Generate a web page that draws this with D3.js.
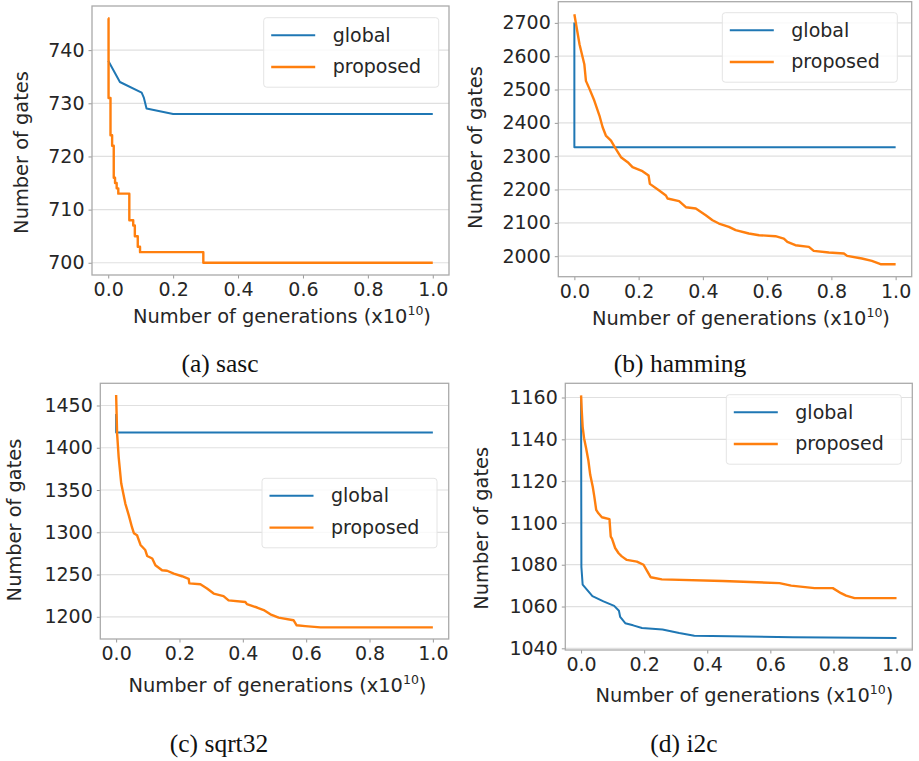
<!DOCTYPE html>
<html>
<head>
<meta charset="utf-8">
<script src="https://cdn.jsdelivr.net/npm/d3@7"></script>
<style>
  body { margin: 0; background: #fff; }
  svg { display: block; }
</style>
</head>
<body>
<svg id="svg" width="919" height="761"></svg>
<script>
// values, x in units of 1e10 generations

var genTicks = [0, 0.2, 0.4, 0.6, 0.8, 1.0];

// (a) sasc
var sascTicks = [700, 710, 720, 730, 740];
var sascGlobal = [[0, 738], [0.036, 734], [0.103, 732], [0.11, 731], [0.118, 729], [0.2, 728], [1.0, 728]];
var sascProposed = [[0, 746], [0.001, 731], [0.007, 724], [0.012, 722], [0.017, 716], [0.021, 715],
    [0.026, 714], [0.031, 713], [0.065, 708], [0.077, 707], [0.082, 705], [0.091, 703],
    [0.098, 702], [0.293, 700], [1.0, 700]];

// (b) hamming
var hammingTicks = [2000, 2100, 2200, 2300, 2400, 2500, 2600, 2700];
var hammingGlobal = [[0, 2701], [0, 2327], [1.0, 2327]];
var hammingProposed = [[0, 2726], [0.016, 2636], [0.031, 2576], [0.036, 2526], [0.047, 2502],
    [0.062, 2467], [0.078, 2422], [0.088, 2387], [0.098, 2362], [0.114, 2347], [0.129, 2322],
    [0.145, 2297], [0.166, 2282], [0.181, 2267], [0.212, 2255], [0.231, 2242], [0.235, 2217],
    [0.264, 2197], [0.285, 2182], [0.29, 2173], [0.326, 2165], [0.347, 2147], [0.378, 2143],
    [0.409, 2123], [0.43, 2108], [0.45, 2098], [0.481, 2088], [0.502, 2078], [0.543, 2068],
    [0.575, 2063], [0.626, 2060], [0.652, 2053], [0.663, 2043], [0.688, 2033], [0.73, 2028],
    [0.745, 2016], [0.792, 2011], [0.839, 2008], [0.849, 2001], [0.895, 1993], [0.926, 1986],
    [0.953, 1976], [1.0, 1976]];

// (c) sqrt32
var sqrtTicks = [1200, 1250, 1300, 1350, 1400, 1450];
var sqrtGlobal = [[0, 1440], [0, 1418], [1.0, 1418]];
var sqrtProposed = [[0, 1462.5], [0.003, 1417], [0.008, 1389], [0.016, 1358], [0.029, 1334],
    [0.04, 1320], [0.05, 1306], [0.056, 1299], [0.066, 1296.5], [0.077, 1285], [0.092, 1279],
    [0.098, 1272], [0.114, 1269], [0.124, 1261], [0.145, 1255], [0.161, 1254.5], [0.182, 1251],
    [0.208, 1248], [0.229, 1245], [0.231, 1239.5], [0.266, 1238.5], [0.287, 1233.5], [0.308, 1227.5],
    [0.339, 1224.5], [0.355, 1219.5], [0.408, 1217.5], [0.413, 1215], [0.445, 1211], [0.466, 1208],
    [0.487, 1203], [0.513, 1199], [0.56, 1196], [0.57, 1190], [0.597, 1189], [0.645, 1187.5],
    [1.0, 1187.5]];

// (d) i2c
var i2cTicks = [1040, 1060, 1080, 1100, 1120, 1140, 1160];
var i2cGlobal = [[0, 1159.5], [0.001, 1079], [0.005, 1070.5], [0.036, 1065], [0.071, 1062.5],
    [0.105, 1060.3], [0.12, 1058], [0.124, 1055], [0.14, 1052], [0.165, 1051], [0.193, 1049.7],
    [0.258, 1049], [0.311, 1047.3], [0.359, 1046], [0.671, 1045.3], [1.0, 1045]];
var i2cProposed = [[0, 1161], [0.002, 1154], [0.005, 1146], [0.0095, 1140.5], [0.016, 1135.7],
    [0.023, 1130], [0.029, 1123], [0.037, 1117.3], [0.042, 1112.6], [0.048, 1106.2], [0.055, 1104.6],
    [0.066, 1102.7], [0.09, 1101.8], [0.094, 1093.5], [0.098, 1092.5], [0.108, 1088], [0.119, 1085.5],
    [0.129, 1084], [0.145, 1082.3], [0.177, 1081.5], [0.198, 1080], [0.21, 1076.8], [0.221, 1074],
    [0.256, 1073], [0.449, 1072.2], [0.629, 1071.2], [0.666, 1070], [0.74, 1068.8], [0.798, 1068.8],
    [0.824, 1066.4], [0.84, 1065.2], [0.867, 1064], [1.0, 1064]];

var seriesNames = ["global", "proposed"];
var seriesColors = ["#1f77b4", "#ff7f0e"];

var svg = d3.select("#svg");
var font = "'DejaVu Sans', sans-serif";

var panels = [
    {frame: [92, 6, 449, 275], ticks: sascTicks, data: [sascGlobal, sascProposed], step: true,
     legend: [263.7, 17.7], xlab: [282, 322.7], ylab: [28.3, 152.5], caption: "(a) sasc", cap: [220, 372]},
    {frame: [558.3, 1.7, 911.7, 276.7], ticks: hammingTicks, data: [hammingGlobal, hammingProposed], step: false,
     legend: [722.3, 12.7], xlab: [741, 325], ylab: [482.3, 147.5], caption: "(b) hamming", cap: [680, 372]},
    {frame: [100.3, 383.3, 448.7, 639], ticks: sqrtTicks, data: [sqrtGlobal, sqrtProposed], step: false,
     legend: [262, 478.3], xlab: [277.5, 691.7], ylab: [20.7, 520], caption: "(c) sqrt32", cap: [219, 752]},
    {frame: [565.3, 383.3, 912.3, 650], ticks: i2cTicks, data: [i2cGlobal, i2cProposed], step: false,
     legend: [726.3, 394.7], xlab: [744.3, 701.7], ylab: [488.3, 528.3], caption: "(d) i2c", cap: [684, 752]}
];

panels.forEach(function(p) {
    var x0 = p.frame[0], y0 = p.frame[1], x1 = p.frame[2], y1 = p.frame[3];

    // matplotlib style 5% margins
    var all = p.data[0].concat(p.data[1]);
    var ext = d3.extent(all, function(d) { return d[1]; });
    var pad = (ext[1] - ext[0]) * 0.05;

    var xScale = d3.scaleLinear().domain([-0.05, 1.05]).range([x0, x1]);
    var yScale = d3.scaleLinear().domain([ext[0] - pad, ext[1] + pad]).range([y1, y0]);

    var g = svg.append("g");

    // horizontal grid
    g.selectAll("line.grid")
        .data(p.ticks)
        .enter()
        .append("line")
        .attr("class", "grid")
        .attr("x1", x0).attr("x2", x1)
        .attr("y1", function(d) { return yScale(d); })
        .attr("y2", function(d) { return yScale(d); })
        .attr("stroke", "#e0e0e0")
        .attr("stroke-width", 1.2);

    // axes
    var xAxis = g.append("g")
        .attr("transform", "translate(0," + y1 + ")")
        .call(d3.axisBottom(xScale).tickValues(genTicks).tickFormat(d3.format(".1f")).tickSize(3.5).tickPadding(4));
    var yAxis = g.append("g")
        .attr("transform", "translate(" + x0 + ",0)")
        .call(d3.axisLeft(yScale).tickValues(p.ticks).tickFormat(d3.format("d")).tickSize(3.5).tickPadding(4));

    [xAxis, yAxis].forEach(function(a) {
        a.select(".domain").remove();
        a.selectAll(".tick line").attr("stroke", "#999").attr("stroke-width", 1);
        a.selectAll(".tick text")
            .attr("fill", "#262626")
            .style("font-family", font)
            .style("font-size", "19px");
    });

    // frame
    g.append("rect")
        .attr("x", x0).attr("y", y0)
        .attr("width", x1 - x0).attr("height", y1 - y0)
        .attr("fill", "none")
        .attr("stroke", "#aaa")
        .attr("stroke-width", 1.3);

    // lines
    p.data.forEach(function(series, i) {
        var line = d3.line()
            .x(function(d) { return xScale(d[0]); })
            .y(function(d) { return yScale(d[1]); })
            .curve(i == 1 && p.step ? d3.curveStepAfter : d3.curveLinear);
        g.append("path")
            .datum(series)
            .attr("d", line)
            .attr("fill", "none")
            .attr("stroke", seriesColors[i])
            .attr("stroke-width", i == 1 ? 2.4 : 2)
            .attr("stroke-linejoin", "round");
    });

    // legend
    var lg = g.append("g").attr("transform", "translate(" + p.legend[0] + "," + p.legend[1] + ")");
    lg.append("rect")
        .attr("width", 175).attr("height", 69.5)
        .attr("rx", 3).attr("ry", 3)
        .attr("fill", "#fff").attr("fill-opacity", 0.8)
        .attr("stroke", "#e4e4e4").attr("stroke-width", 1);
    seriesNames.forEach(function(name, i) {
        var yy = 17.5 + i * 31.8;
        lg.append("line")
            .attr("x1", 7.5).attr("x2", 51.5)
            .attr("y1", yy).attr("y2", yy)
            .attr("stroke", seriesColors[i])
            .attr("stroke-width", i == 1 ? 2.4 : 2);
        lg.append("text")
            .attr("x", 69).attr("y", yy + 6.5)
            .attr("fill", "#262626")
            .style("font-family", font)
            .style("font-size", "19px")
            .text(name);
    });

    // axis labels
    var xt = g.append("text")
        .attr("x", p.xlab[0]).attr("y", p.xlab[1])
        .attr("text-anchor", "middle")
        .attr("fill", "#262626")
        .style("font-family", font)
        .style("font-size", "19.4px");
    xt.append("tspan").text("Number of generations (x10");
    xt.append("tspan").attr("dy", -8).style("font-size", "12.5px").text("10");
    xt.append("tspan").attr("dy", 8).text(")");

    g.append("text")
        .attr("transform", "translate(" + p.ylab[0] + "," + p.ylab[1] + ") rotate(-90)")
        .attr("text-anchor", "middle")
        .attr("fill", "#262626")
        .style("font-family", font)
        .style("font-size", "19.4px")
        .text("Number of gates");

    // sub caption
    g.append("text")
        .attr("x", p.cap[0]).attr("y", p.cap[1])
        .attr("text-anchor", "middle")
        .attr("fill", "#111")
        .style("font-family", "'Liberation Serif', serif")
        .style("font-size", "25.5px")
        .text(p.caption);
});
</script>
</body>
</html>
